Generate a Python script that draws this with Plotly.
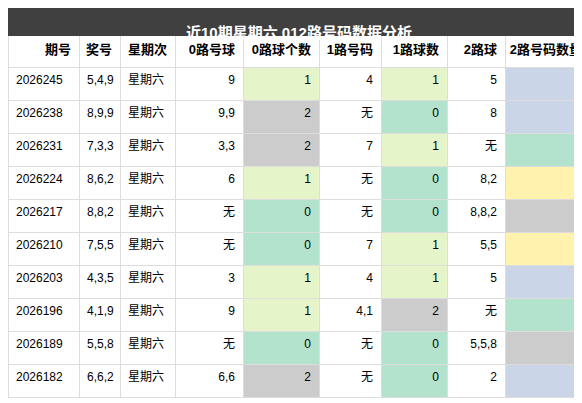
import plotly.graph_objects as go

# data
qihao = ["2026245", "2026238", "2026231", "2026224", "2026217", "2026210", "2026203", "2026196", "2026189", "2026182"]
jianghao = ["5,4,9", "8,9,9", "7,3,3", "8,6,2", "8,8,2", "7,5,5", "4,3,5", "4,1,9", "5,5,8", "6,6,2"]
xingqi = ["星期六"] * 10
r0_balls = ["9", "9,9", "3,3", "6", "无", "无", "3", "9", "无", "6,6"]
r0_count = [1, 2, 2, 1, 0, 0, 1, 1, 0, 2]
r1_balls = ["4", "无", "7", "无", "无", "7", "4", "4,1", "无", "无"]
r1_count = [1, 0, 1, 0, 0, 1, 1, 2, 0, 0]
r2_balls = ["5", "8", "无", "8,2", "8,8,2", "5,5", "5", "无", "5,5,8", "2"]
r2_count = [1, 1, 0, 2, 3, 2, 1, 0, 3, 1]

headers = ["期号", "奖号", "星期次", "0路号球", "0路球个数", "1路号码", "1路球数", "2路球", "2路号码数量"]
widths = [71, 41, 55, 68, 76, 62, 66, 58, 85]

cnt_colors = {0: "#b3e2cd", 1: "#e6f5c9", 2: "#cccccc", 3: "#cccccc"}
last_colors = {0: "#b3e2cd", 1: "#cbd5e8", 2: "#fff2ae", 3: "#cccccc"}

FONT = "Liberation Sans, Noto Sans CJK SC"

white = ["white"] * 10
fill = [white, white, white, white,
        [cnt_colors[v] for v in r0_count], white,
        [cnt_colors[v] for v in r1_count], white,
        [last_colors[v] for v in r2_count]]

fig = go.Figure(go.Table(
    columnwidth=widths,
    domain=dict(x=[0, 1], y=[0, 1 - 26 / 403]),
    header=dict(values=["<b>%s</b>" % h for h in headers],
                align="right", height=33, fill_color="white",
                line_color="#dddddd",
                font=dict(family=FONT, size=13, color="black")),
    cells=dict(values=[qihao, jianghao, xingqi, r0_balls, r0_count, r1_balls, r1_count, r2_balls, r2_count],
               align=["left", "left", "left", "right", "right", "right", "right", "right", "right"],
               height=33, fill_color=fill, line_color="#dddddd",
               font=dict(family=FONT, size=12, color="black")),
))

fig.add_shape(type="rect", xref="paper", yref="paper", x0=0, x1=1, y0=1 - 28 / 403, y1=1,
              fillcolor="#404040", line_width=0)
fig.add_annotation(text="<b>近10期星期六 012路号码数据分析</b>", xref="paper", yref="paper",
                   x=0.5, y=1 - 14 / 403, showarrow=False,
                   font=dict(family=FONT, size=15, color="white"))

fig.update_layout(width=582, height=403, margin=dict(l=0, r=0, t=0, b=0),
                  paper_bgcolor="white")
fig.write_html("out.html")
